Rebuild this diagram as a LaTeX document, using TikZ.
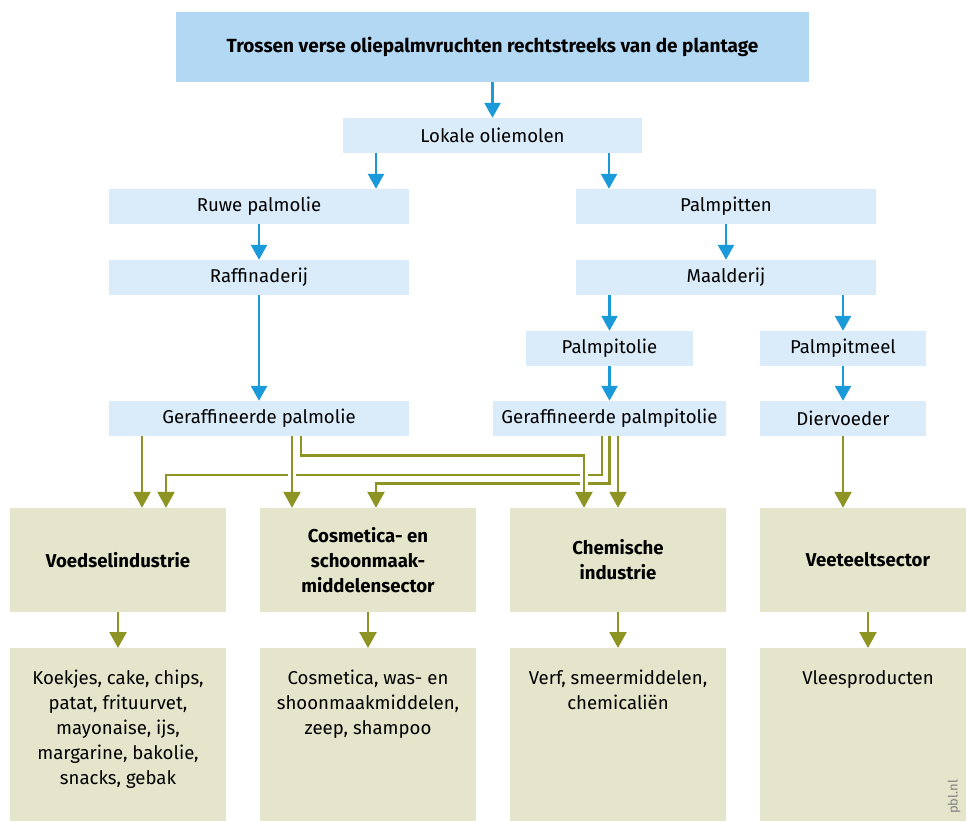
\documentclass[tikz,border=0pt]{standalone}
\usepackage{fontspec}
\setmainfont{Fira Sans}
\usepackage{tikz}
\usetikzlibrary{arrows.meta}
\usetikzlibrary{positioning}

\definecolor{topblue}{HTML}{B3D8F3}
\definecolor{paleblue}{HTML}{DAECFA}
\definecolor{arrblue}{HTML}{1A9AD9}
\definecolor{sectorfill}{HTML}{E5E5CB}
\definecolor{arrolive}{HTML}{8D9423}

\tikzset{
    box/.style={fill=paleblue, inner sep=0pt, minimum height=35pt, align=center,
        font=\fontsize{18.6}{25}\selectfont},
    sectorbox/.style={fill=sectorfill, inner sep=0pt, minimum width=216pt, minimum height=104pt,
        align=center, font=\fontsize{18.6}{25}\selectfont\bfseries},
    prodbox/.style={fill=sectorfill, inner sep=0pt, minimum width=216pt, minimum height=190pt, anchor=north},
    prodtext/.style={inner sep=0pt, align=center, font=\fontsize{18.6}{25}\selectfont},
    bluearr/.style={draw=arrblue, line width=2.5pt, -{Triangle[width=16pt,length=15pt]}},
    olivearr/.style={draw=arrolive, line width=2.5pt, -{Triangle[width=17pt,length=16pt]}},
    bridge/.style={preaction={-, draw=white, line width=8pt}}
}

\begin{document}
\begin{tikzpicture}[x=1pt, y=-1pt]
    \useasboundingbox (0,0) rectangle (966,821);

    % blue part
    \node[box, fill=topblue, minimum width=633pt, minimum height=70pt, font=\fontsize{19}{25}\selectfont\bfseries]
        (plantage) at (492.5,47) {Trossen verse oliepalmvruchten rechtstreeks van de plantage};
    \node[box, minimum width=299pt] (oliemolen) at (492.5,135.5) {Lokale oliemolen};
    \node[box, minimum width=300pt] (ruwe) at (259,206.5) {Ruwe palmolie};
    \node[box, minimum width=300pt] (pitten) at (726,206.5) {Palmpitten};
    \node[box, minimum width=300pt] (raff) at (259,277.5) {Raffinaderij};
    \node[box, minimum width=300pt] (maal) at (726,277.5) {Maalderij};
    \node[box, minimum width=167pt] (pitolie) at (609.5,348.5) {Palmpitolie};
    \node[box, minimum width=166pt] (pitmeel) at (843,348.5) {Palmpitmeel};
    \node[box, minimum width=300pt] (gerolie) at (259,418.5) {Geraffineerde palmolie};
    \node[box, minimum width=233pt] (gerpit) at (609.5,418.5) {Geraffineerde palmpitolie};
    \node[box, minimum width=166pt] (dier) at (843,418.5) {Diervoeder};

    \draw[bluearr] (plantage) -- (oliemolen);
    \draw[bluearr] ([xshift=-116.5pt]oliemolen.south) -- ([xshift=117pt]ruwe.north);
    \draw[bluearr] ([xshift=116.5pt]oliemolen.south) -- ([xshift=-117pt]pitten.north);
    \draw[bluearr] (ruwe) -- (raff);
    \draw[bluearr] (pitten) -- (maal);
    \draw[bluearr] (maal.south -| pitolie.north) -- (pitolie);
    \draw[bluearr] (maal.south -| pitmeel.north) -- (pitmeel);
    \draw[bluearr] (raff) -- (gerolie);
    \draw[bluearr] (pitolie) -- (gerpit);
    \draw[bluearr] (pitmeel) -- (dier);

    % sectors
    \node[sectorbox] (voedsel) at (118,560) {Voedselindustrie};
    \node[sectorbox] (cosmetica) at (368,560) {Cosmetica- en\\schoonmaak-\\middelensector};
    \node[sectorbox] (chemie) at (618,560) {Chemische\\industrie};
    \node[sectorbox] (vee) at (868,560) {Veeteeltsector};

    % products
    \node[prodbox] (voedselprod) at (118,648) {};
    \node[prodbox] (cosmeticaprod) at (368,648) {};
    \node[prodbox] (chemieprod) at (618,648) {};
    \node[prodbox] (veeprod) at (868,648) {};
    \node[prodtext, below=22pt of voedselprod.north] {Koekjes, cake, chips,\\patat, frituurvet,\\mayonaise, ijs,\\margarine, bakolie,\\snacks, gebak};
    \node[prodtext, below=22pt of cosmeticaprod.north] {Cosmetica, was- en\\shoonmaakmiddelen,\\zeep, shampoo};
    \node[prodtext, below=22pt of chemieprod.north] {Verf, smeermiddelen,\\chemicaliën};
    \node[prodtext, below=22pt of veeprod.north] {Vleesproducten};

    % olive connectors
    \draw[olivearr] ([xshift=-7.5pt]gerpit.south) |- ++(0,38.6) -| ([xshift=48pt]voedsel.north);
    \draw[olivearr] (gerpit.south) |- ++(0,47.5) -| ([xshift=8pt]cosmetica.north);
    \draw[olivearr, bridge] ([xshift=33pt]gerolie.south) -- ([xshift=-76pt]cosmetica.north);
    \draw[olivearr, bridge] ([xshift=42pt]gerolie.south) |- ++(0,19.2) -| ([xshift=-34pt]chemie.north);
    \draw[olivearr] ([xshift=-117pt]gerolie.south) -- ([xshift=24pt]voedsel.north);
    \draw[olivearr] (gerpit.south -| chemie.north) -- (chemie);
    \draw[olivearr] (dier.south) -- (dier.south |- vee.north);

    \draw[olivearr] (voedsel) -- (voedselprod);
    \draw[olivearr] (cosmetica) -- (cosmeticaprod);
    \draw[olivearr] (chemie) -- (chemieprod);
    \draw[olivearr] (vee) -- (veeprod);

    \node[rotate=90, text=gray, font=\fontsize{13}{13}\selectfont, anchor=south] (pbl) at (964,797) {pbl.nl};
\end{tikzpicture}
\end{document}
